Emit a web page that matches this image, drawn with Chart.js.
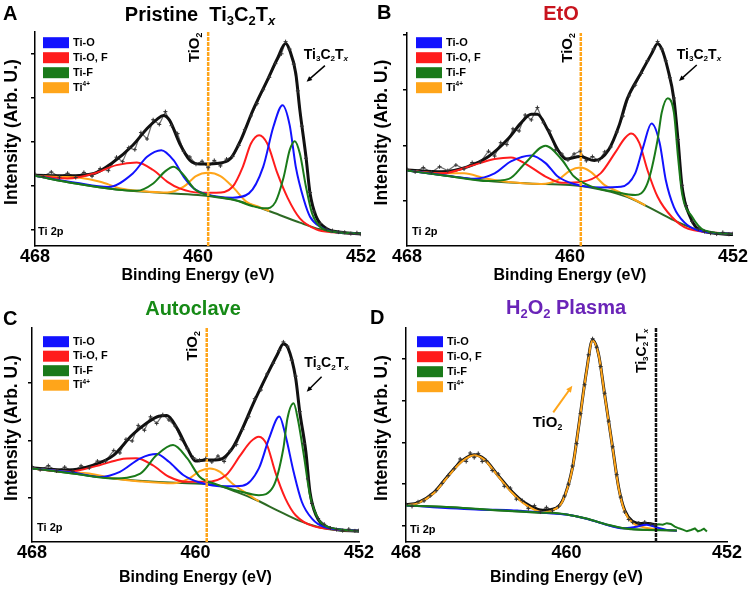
<!DOCTYPE html>
<html lang="en">
<head>
<meta charset="UTF-8">
<meta name="viewport" content="width=device-width, initial-scale=1.0">
<title>Ti 2p spectra</title>
<script src="https://cdn.jsdelivr.net/npm/chart.js@4.4.1/dist/chart.umd.min.js"></script>
<style>
  body { margin: 0; background: #fff; }
  #fig { position: relative; width: 750px; height: 591px; overflow: hidden;
         font-family: "Liberation Sans", Arial, sans-serif; font-weight: bold; color: #000; }
  canvas { position: absolute; }
  .lbl { position: absolute; white-space: nowrap; line-height: 1; transform: translate(-50%, -50%); }
  .let { font-size: 20px; transform: translate(0, -50%); }
  .ttl { font-size: 20px; }
  .ttl sub { font-size: 65%; vertical-align: -0.3em; line-height: 0; }
</style>
</head>
<body>
<div id="fig">
  <canvas id="cA" width="376" height="295" style="left:0;top:0"></canvas>
  <canvas id="cB" width="378" height="295" style="left:372px;top:0"></canvas>
  <canvas id="cC" width="376" height="296" style="left:0;top:295px"></canvas>
  <canvas id="cD" width="379" height="296" style="left:371px;top:295px"></canvas>

  <div class="lbl let" style="left:3px;top:13px">A</div>
  <div class="lbl let" style="left:377px;top:12px">B</div>
  <div class="lbl let" style="left:3px;top:318px">C</div>
  <div class="lbl let" style="left:370px;top:317px">D</div>

  <div class="lbl ttl" style="left:200px;top:14px">Pristine&nbsp;&nbsp;Ti<sub>3</sub>C<sub>2</sub>T<sub><i>x</i></sub></div>
  <div class="lbl ttl" style="left:561px;top:13px;color:#c8141e">EtO</div>
  <div class="lbl ttl" style="left:193px;top:308px;color:#168a16">Autoclave</div>
  <div class="lbl ttl" style="left:566px;top:307px;color:#6a24b8">H<sub>2</sub>O<sub>2</sub> Plasma</div>
</div>
<script>
const FONT = '"Liberation Sans", Arial, sans-serif';
const BLUE = '#1212ff', RED = '#ff1c1c', GREEN = '#1a7a1a', ORANGE = '#ffa51a';

const energyTicks = [468, 460, 452];
const compNames = ['Ti-O', 'Ti-O, F', 'Ti-F', 'Ti4+'];
const yTitle = 'Intensity (Arb. U.)';

// y values are read off the picture, in % of plot height
// ---- A: pristine
const aBg = [[468,32.8],[466,29.2],[464,26.4],[462,25.0],[460,23.8],[459,22.7],[458,21.0],[457,18.0],[456,14.5],[455,10.9],[454,7.8],[453,6.4],[452,5.9]];
const aTiO = [[468,32.8],[466,29.6],[464.4,27.6],[463.2,33.9],[462.5,41.7],[461.8,44.8],[461.2,40.1],[460.7,32.3],[460.2,26.9],[459.6,24.2],[458.3,22.6],[457.5,24.6],[456.8,37.0],[456.3,55.7],[455.85,65.8],[455.5,56.5],[455.2,37.0],[454.8,21.5],[454.5,13.7],[454,9.0],[453.4,6.7],[452,5.9]];
const aTiOF = [[468,32.8],[466.4,31.6],[465.1,33.9],[464,37.8],[463,39.0],[462.2,35.5],[461.5,30.0],[460.9,26.9],[459.9,24.9],[459.1,24.9],[458.3,27.7],[457.8,37.0],[457.4,47.9],[457.0,51.8],[456.6,47.9],[456.1,33.9],[455.6,22.5],[455.0,12.9],[454.2,7.8],[453.4,6.4],[452,5.9]];
const aTiF = [[468,32.8],[466,29.2],[464,26.4],[463.0,25.8],[462.2,29.2],[461.6,35.0],[461.2,37.0],[460.7,33.1],[460.2,26.9],[459.6,24.0],[458.3,21.8],[457.3,18.6],[456.7,17.6],[456.2,20.5],[455.8,32.0],[455.5,44.8],[455.25,49.0],[455.0,43.2],[454.7,27.7],[454.4,15.2],[454.0,9.0],[453.4,6.7],[452,5.9]];
const aTi4 = [[468,32.8],[466.8,32.3],[465.8,31.9],[464.8,30.0],[463.8,26.9],[462.8,25.7],[461.5,25.0],[460.7,27.7],[460.1,32.7],[459.5,34.2],[458.9,32.7],[458.3,27.7],[457.6,20.5],[457.0,18.3],[456.5,16.3]];
const aEnv = [[468,33.1],[466.4,32.8],[465.1,33.9],[464.2,38.9],[463.2,47.1],[462.5,54.9],[462.0,59.3],[461.7,61.0],[461.4,58.8],[460.9,47.9],[460.4,40.1],[459.9,38.3],[459.1,38.6],[458.4,40.9],[457.9,49.5],[457.3,63.5],[456.6,77.4],[456.1,87.6],[455.7,94.6],[455.5,91.5],[455.2,80.6],[455.0,63.5],[454.7,41.7],[454.5,24.6],[454.2,13.7],[453.7,8.2],[453.0,6.4],[452,5.6]];
const aRaw = [[468,33.5],[467.6,32.6],[467.2,34.6],[466.8,32.2],[466.4,34.0],[466.0,32.0],[465.6,34.4],[465.2,32.6],[464.8,36.2],[464.4,35.2],[464.0,41.5],[463.7,39.4],[463.4,46.0],[463.1,45.0],[462.8,53.0],[462.5,50.0],[462.2,59.0],[461.9,56.8],[461.6,62.8],[461.3,56.2],[461.0,52.5],[460.7,44.2],[460.4,41.6],[460.1,38.2],[459.8,39.6],[459.5,36.6],[459.2,40.0],[458.9,37.4],[458.6,40.6],[458.3,41.8],[458.0,47.0],[457.7,54.5],[457.4,60.8],[457.1,66.5],[456.8,73.0],[456.5,78.8],[456.2,85.2],[455.9,89.8],[455.7,95.5],[455.5,92.0],[455.3,85.0],[455.1,72.5],[454.9,56.0],[454.7,41.0],[454.5,25.0],[454.3,16.0],[454.0,10.5],[453.7,8.0],[453.4,7.2],[453.1,6.5],[452.8,6.4],[452.5,5.8],[452.2,6.2],[452.0,5.5]];
const aTicks = [7.8, 28.1, 48.7, 69.2, 89.9];

// ---- B: EtO
const bBg = [[468,35.4],[466,32.9],[464,30.5],[462,29.4],[460,28.6],[459,27.5],[458,25.4],[457,22.3],[456,17.5],[455,12.5],[454,8.4],[453,6.2],[452,5.7]];
const bTiO = [[468,35.4],[466,33.0],[464.7,31.6],[463.7,34.1],[462.9,39.7],[461.9,42.5],[461.2,38.9],[460.6,32.6],[459.8,29.1],[458.5,27.5],[457.5,27.8],[456.8,34.1],[456.4,46.8],[456.0,57.5],[455.6,48.4],[455.3,31.0],[454.9,18.3],[454.4,11.2],[453.7,7.3],[452,5.7]];
const bTiOF = [[468,35.4],[466.3,34.1],[464.7,38.1],[463.7,40.8],[462.9,41.6],[462.1,38.1],[461.2,32.6],[460.4,29.7],[459.4,30.2],[458.5,34.1],[457.8,43.6],[457.3,50.7],[457.0,52.8],[456.6,48.4],[456.2,35.7],[455.7,23.1],[455.0,13.6],[454.2,8.1],[452,5.7]];
const bTiF = [[468,35.4],[466,32.9],[464,30.5],[463.0,31.5],[462.2,38.9],[461.2,47.1],[460.4,40.5],[459.8,32.6],[459.0,28.1],[457.8,25.4],[456.8,23.9],[456.2,29.4],[455.7,49.9],[455.5,62.6],[455.2,69.4],[454.9,62.6],[454.7,42.0],[454.5,24.7],[454.0,13.6],[453.4,7.3],[452,5.7]];
const bTi4 = [[468,35.4],[466.3,34.1],[465.2,34.1],[464.2,31.8],[463.0,30.0],[461.4,29.1],[460.6,31.0],[460.0,35.4],[459.5,36.8],[459.0,34.9],[458.3,28.6],[457.6,25.4],[456.8,21.6],[456.3,19.0]];
const bEnv = [[468,35.7],[466.3,34.9],[465.0,37.3],[464.0,42.0],[463.0,50.7],[462.4,57.8],[461.9,61.8],[461.6,61.8],[461.1,54.7],[460.6,45.2],[460.2,40.8],[459.5,42.0],[458.8,40.1],[458.1,45.2],[457.6,56.3],[457.2,68.9],[456.5,81.5],[456.0,90.2],[455.7,95.0],[455.5,92.6],[455.2,83.1],[454.9,68.9],[454.7,49.9],[454.5,27.8],[454.1,13.6],[453.6,7.3],[452,5.4]];
const bRaw = [[468,36.0],[467.6,34.8],[467.2,36.8],[466.8,34.6],[466.4,37.2],[466.0,35.4],[465.6,38.0],[465.2,36.2],[464.8,39.2],[464.4,39.4],[464.0,44.5],[463.7,42.2],[463.4,48.5],[463.1,47.6],[462.8,55.0],[462.5,54.0],[462.2,61.5],[461.9,59.2],[461.6,65.0],[461.3,57.8],[461.0,54.0],[460.7,45.2],[460.4,43.2],[460.1,40.4],[459.8,43.2],[459.5,44.5],[459.2,40.0],[458.9,42.0],[458.6,40.0],[458.3,44.2],[458.0,46.5],[457.7,53.5],[457.4,61.0],[457.1,70.5],[456.8,75.5],[456.5,81.0],[456.2,87.0],[455.9,92.5],[455.7,96.0],[455.5,92.5],[455.3,87.0],[455.1,79.0],[454.9,69.5],[454.7,50.0],[454.5,28.5],[454.3,19.0],[454.0,11.5],[453.7,8.0],[453.4,6.8],[453.1,6.0],[452.8,5.6],[452.5,6.4],[452.2,5.5],[452.0,5.8]];
const bTicks = [21.3, 47.3, 73.3, 99.3];

// ---- C: autoclave
const cBg = [[468,34.4],[466,32.0],[464,29.7],[462,28.1],[460,27.3],[459,26.6],[458,23.4],[457,19.5],[456,14.8],[455,10.2],[454,7.0],[453,5.5],[452,5.2]];
const cTiO = [[468,34.4],[466,32.5],[464.7,30.4],[463.7,32.8],[462.7,39.1],[461.9,41.1],[461.3,37.5],[460.6,31.3],[459.8,27.8],[458.5,26.0],[457.7,26.3],[456.9,34.4],[456.4,48.4],[455.9,58.6],[455.6,50.0],[455.2,32.8],[454.8,18.8],[454.3,10.9],[453.7,7.0],[452,5.2]];
const cTiOF = [[468,34.4],[466.3,32.8],[464.7,35.9],[463.7,38.6],[462.9,39.1],[462.1,35.9],[461.3,30.5],[460.4,28.1],[459.5,28.1],[458.5,31.3],[457.8,40.6],[457.3,46.9],[456.9,49.2],[456.5,45.3],[456.1,32.8],[455.6,20.3],[455.1,12.5],[454.2,7.3],[452,5.2]];
const cTiF = [[468,34.4],[466,32.0],[464,29.7],[462.7,32.0],[461.9,40.6],[461.1,45.3],[460.4,39.1],[459.8,30.5],[459.0,27.0],[457.8,23.6],[456.9,21.9],[456.2,25.8],[455.7,43.8],[455.5,57.8],[455.2,64.8],[455.0,57.8],[454.7,40.6],[454.4,21.9],[454.0,10.9],[453.4,6.7],[452,5.2]];
const cTi4 = [[468,34.4],[466.3,32.8],[465.2,32.0],[464.0,29.7],[462.7,28.3],[461.1,27.4],[460.3,29.7],[459.8,33.1],[459.3,34.4],[458.8,32.8],[458.2,27.3],[457.5,22.7],[456.9,19.0]];
const cEnv = [[468,34.7],[466.3,33.6],[465.0,35.9],[464.0,40.6],[463.1,50.0],[462.4,55.5],[461.8,58.8],[461.4,59.1],[460.9,53.1],[460.4,43.8],[460.0,37.8],[459.5,38.3],[458.8,38.6],[458.2,43.8],[457.7,53.1],[457.2,64.1],[456.5,78.1],[456.0,87.5],[455.7,92.5],[455.47,90.6],[455.1,76.6],[454.9,60.9],[454.6,42.2],[454.4,23.4],[454.1,12.5],[453.6,7.0],[452,5.0]];
const cRaw = [[468,35.2],[467.6,33.8],[467.2,35.7],[466.8,33.2],[466.4,35.0],[466.0,33.0],[465.6,35.6],[465.2,34.6],[464.8,37.8],[464.4,37.8],[464.0,42.8],[463.7,41.6],[463.4,48.0],[463.1,47.2],[462.8,54.5],[462.5,52.2],[462.2,58.5],[461.9,55.4],[461.6,59.5],[461.3,57.0],[461.0,54.2],[460.7,48.0],[460.4,43.6],[460.1,39.4],[459.8,38.2],[459.5,39.0],[459.2,37.4],[458.9,40.2],[458.6,37.6],[458.3,42.6],[458.0,45.5],[457.7,52.5],[457.4,58.5],[457.1,67.0],[456.8,71.0],[456.5,78.5],[456.2,83.5],[455.9,89.5],[455.7,93.5],[455.5,91.5],[455.3,85.0],[455.1,77.5],[454.9,61.0],[454.7,46.0],[454.5,29.5],[454.3,18.0],[454.0,11.0],[453.7,8.3],[453.4,6.5],[453.1,5.8],[452.8,5.3],[452.5,6.0],[452.2,5.2],[452.0,5.4]];
const cTicks = [20.5, 47.3, 74.5];

// ---- D: H2O2 plasma
const dBg = [[468,17.0],[466,16.4],[464,15.1],[462,14.0],[461,13.6],[460,12.8],[459,10.9],[458,8.1],[457,6.2],[456,5.6],[455,5.5],[454.5,5.3]];
const dTiO = [[468,17.0],[464,15.1],[463.0,15.0],[462.3,14.6],[461.5,14.0],[461,13.6],[460,12.8],[459,10.9],[458,8.1],[457.2,6.4],[456.6,7.0],[456.0,8.1],[455.5,6.8],[455.0,5.6],[454.5,5.3]];
const dTiF = [[468,17.0],[466,16.4],[464,15.2],[462,14.1],[461,13.7],[460,12.9],[459,11.0],[458,8.2],[457,6.3],[456,5.7],[455,5.5],[454.5,5.4]];
const dTiFTail = [[455.6,7.9],[455.4,8.3],[455.2,8.1],[455.0,8.8],[454.8,8.4],[454.6,7.2],[454.4,6.4],[454.2,5.8],[454.0,5.0],[453.8,5.6],[453.6,6.3],[453.45,5.0],[453.3,5.4],[453.15,6.2],[453.0,4.9]];
const dTi4 = [[468,17.1],[467.4,18.2],[466.6,22.9],[465.9,30.7],[465.2,37.7],[464.6,40.5],[464.1,38.5],[463.4,30.7],[462.7,22.9],[462.1,17.8],[461.2,14.0],[460.7,14.8],[460.2,19.0],[459.7,34.6],[459.4,53.3],[459.0,79.8],[458.7,94.2],[458.4,87.5],[458.1,68.8],[457.7,43.9],[457.4,25.2],[457.1,14.3],[456.7,8.9],[456.2,7.0],[455.4,5.8],[454.5,5.3]];
const dEnv = [[468,17.4],[467.4,18.4],[466.6,23.2],[465.9,31.0],[465.2,38.0],[464.6,40.8],[464.1,38.8],[463.4,31.0],[462.7,23.3],[462.1,18.4],[461.2,14.8],[460.7,15.3],[460.2,19.2],[459.7,34.8],[459.4,53.5],[459.0,80.0],[458.7,94.4],[458.4,87.6],[458.1,69.0],[457.7,44.0],[457.4,25.5],[457.1,14.8],[456.7,9.6],[456.3,8.6],[455.9,8.6],[455.6,8.2]];
const dRaw = [[468,17.6],[467.7,16.6],[467.4,18.8],[467.1,19.2],[466.8,21.6],[466.5,24.0],[466.2,27.4],[465.9,31.0],[465.6,34.2],[465.3,38.8],[465.0,37.6],[464.8,41.6],[464.6,39.4],[464.4,41.4],[464.2,37.6],[464.0,38.0],[463.7,33.4],[463.4,31.8],[463.1,26.0],[462.8,25.2],[462.5,20.0],[462.2,19.4],[461.9,15.6],[461.6,17.0],[461.3,14.0],[461.0,16.2],[460.7,14.6],[460.4,16.8],[460.1,21.5],[459.9,27.0],[459.7,35.5],[459.5,46.0],[459.3,60.0],[459.1,73.5],[458.9,87.5],[458.7,95.0],[458.5,91.0],[458.3,82.0],[458.1,69.5],[457.9,56.5],[457.7,44.5],[457.5,31.5],[457.3,21.0],[457.1,14.0],[456.9,10.5],[456.7,9.2],[456.4,8.8],[456.1,9.3],[455.8,8.4],[455.6,8.0]];
const dTicks = [7.6, 27.1, 46.6, 66.0, 85.5];

// rich text pieces: 0 normal, 1 subscript, 2 italic subscript, 3 superscript
const TI3C2TX = [['Ti',0],['3',1],['C',0],['2',1],['T',0],['x',2]];
const TIO2 = [['TiO',0],['2',1]];
const legendParts = [[['Ti-O',0]], [['Ti-O, F',0]], [['Ti-F',0]], [['Ti',0],['4+',3]]];
const legendColors = [BLUE, RED, GREEN, ORANGE];

function drawRich(ctx, parts, x, y, size, color, align) {
  const fonts = parts.map(([t, k]) => k === 0 ? `bold ${size}px ${FONT}`
    : `${k === 2 ? 'italic ' : ''}bold ${(size * 0.58).toFixed(1)}px ${FONT}`);
  let w = 0;
  const widths = parts.map(([t], i) => { ctx.font = fonts[i]; const m = ctx.measureText(t).width; w += m; return m; });
  let cx = align === 'center' ? x - w / 2 : x;
  ctx.fillStyle = color;
  ctx.textBaseline = 'middle';
  ctx.textAlign = 'left';
  parts.forEach(([t, k], i) => {
    ctx.font = fonts[i];
    const dy = (k === 1 || k === 2) ? size * 0.3 : (k === 3 ? -size * 0.3 : 0);
    ctx.fillText(t, cx, y + dy);
    cx += widths[i];
  });
}

function arrow(ctx, x1, y1, x2, y2, color, w, head) {
  const ang = Math.atan2(y2 - y1, x2 - x1);
  ctx.strokeStyle = color; ctx.fillStyle = color; ctx.lineWidth = w;
  ctx.beginPath();
  ctx.moveTo(x1, y1);
  ctx.lineTo(x2 - Math.cos(ang) * head * 0.7, y2 - Math.sin(ang) * head * 0.7);
  ctx.stroke();
  ctx.beginPath();
  ctx.moveTo(x2, y2);
  ctx.lineTo(x2 - head * Math.cos(ang - 0.42), y2 - head * Math.sin(ang - 0.42));
  ctx.lineTo(x2 - head * Math.cos(ang + 0.42), y2 - head * Math.sin(ang + 0.42));
  ctx.closePath();
  ctx.fill();
}

const panels = {
  cA: { pad: { top: 32, right: 15 }, yW: 35, xTitlePad: 10, yTitleX: 12, yTicks: aTicks,
        bg: aBg, env: aEnv, raw: aRaw, tio: aTiO, tiof: aTiOF, tif: aTiF, ti4: aTi4,
        ref: 459.5, refColor: ORANGE, legend: [8, 10.7, 15], tip: [3, 14],
        labels: [{ parts: TI3C2TX, at: [453.72, 89.3], size: 14 },
                 { parts: TIO2, at: [460.15, 92.8], size: 15, rot: true }],
        arrows: [{ from: [453.77, 84.3], to: [454.67, 76.8], color: '#000', w: 1.5, head: 6 }] },
  cB: { pad: { top: 33, right: 17 }, yW: 35, xTitlePad: 10, yTitleX: 10.5, yTicks: bTicks,
        bg: bBg, env: bEnv, raw: bRaw, tio: bTiO, tiof: bTiOF, tif: bTiF, ti4: bTi4,
        ref: 459.47, refColor: ORANGE, legend: [9, 9.7, 15], tip: [5, 14],
        labels: [{ parts: TI3C2TX, at: [453.67, 89.7], size: 14 },
                 { parts: TIO2, at: [460.1, 93], size: 15, rot: true }],
        arrows: [{ from: [453.78, 85.0], to: [454.65, 77.5], color: '#000', w: 1.5, head: 6 }] },
  cC: { pad: { top: 33, right: 17 }, yW: 32, xTitlePad: 3.4, yTitleX: 11.7, yTicks: cTicks,
        bg: cBg, env: cEnv, raw: cRaw, tio: cTiO, tiof: cTiOF, tif: cTiF, ti4: cTi4,
        ref: 459.45, refColor: ORANGE, legend: [11, 13.7, 14.5], tip: [5, 14],
        labels: [{ parts: TI3C2TX, at: [453.59, 83.6], size: 14 },
                 { parts: TIO2, at: [460.12, 91.6], size: 15, rot: true }],
        arrows: [{ from: [453.83, 77.2], to: [454.56, 70.2], color: '#000', w: 1.5, head: 6 }] },
  cD: { pad: { top: 33, right: 23 }, yW: 35, xTitlePad: 3.4, yTitleX: 11, yTicks: dTicks,
        bg: dBg, env: dEnv, raw: dRaw, tio: dTiO, tiof: null, tif: dTiF, ti4: dTi4, tail: dTiFTail,
        ref: 455.54, refColor: '#111', legend: [11, 13.7, 15], tip: [4, 12],
        labels: [{ parts: TI3C2TX, at: [456.25, 89.3], size: 14, rot: true },
                 { parts: TIO2, at: [460.95, 55.6], size: 15 }],
        arrows: [{ from: [460.66, 60.6], to: [459.71, 73.0], color: ORANGE, w: 2, head: 7 }] }
};

const decor = {
  id: 'decor',
  afterDatasetsDraw(chart) {
    const p = panels[chart.canvas.id];
    const { ctx, chartArea: a } = chart;
    const x = chart.scales.x, y = chart.scales.y;
    ctx.save();
    // y axis title, sitting a little above the middle of the axis
    ctx.save();
    ctx.translate(p.yTitleX, (a.top + a.bottom) / 2 - 7);
    ctx.rotate(-Math.PI / 2);
    ctx.font = `bold 17.5px ${FONT}`;
    ctx.fillStyle = '#000';
    ctx.textAlign = 'center';
    ctx.textBaseline = 'middle';
    ctx.fillText(yTitle, 0, 0);
    ctx.restore();
    const [lx, ly, step] = p.legend;
    compNames.forEach((n, i) => {
      const cy = a.top + ly + i * step;
      ctx.fillStyle = legendColors[i];
      ctx.fillRect(a.left + lx, cy - 5.5, 26, 11);
      drawRich(ctx, legendParts[i], a.left + lx + 30, cy, 11, '#000', 'left');
    });
    drawRich(ctx, [['Ti 2p', 0]], a.left + p.tip[0], a.bottom - p.tip[1], 11, '#000', 'left');
    p.labels.forEach(l => {
      ctx.save();
      ctx.translate(x.getPixelForValue(l.at[0]), y.getPixelForValue(l.at[1]));
      if (l.rot) ctx.rotate(-Math.PI / 2);
      drawRich(ctx, l.parts, 0, 0, l.size, '#000', 'center');
      ctx.restore();
    });
    p.arrows.forEach(ar => {
      arrow(ctx, x.getPixelForValue(ar.from[0]), y.getPixelForValue(ar.from[1]),
        x.getPixelForValue(ar.to[0]), y.getPixelForValue(ar.to[1]), ar.color, ar.w, ar.head);
    });
    ctx.restore();
  }
};

function line(data, color, width, extra) {
  return Object.assign({ data, borderColor: color, borderWidth: width, pointRadius: 0,
    fill: false, cubicInterpolationMode: 'monotone' }, extra || {});
}

Object.keys(panels).forEach(id => {
  const p = panels[id];
  const ds = [];
  // first dataset is drawn on top
  ds.push({ data: p.raw, showLine: false, pointStyle: 'cross', pointRadius: 2,
            borderColor: '#333', borderWidth: 1 });
  ds.push(line([[p.ref, 0], [p.ref, 100]], p.refColor, 2.5, { borderDash: [4, 1], tension: 0, cubicInterpolationMode: 'default' }));
  if (p.tail) ds.push(line(p.tail, GREEN, 2, { tension: 0, cubicInterpolationMode: 'default' }));
  ds.push(line(p.tif, GREEN, 2));
  ds.push(line(p.tio, BLUE, 2));
  if (p.tiof) ds.push(line(p.tiof, RED, 2));
  ds.push(line(p.ti4, ORANGE, 2));
  ds.push(line(p.bg, '#2d6a24', 2));
  ds.push(line(p.env, '#111', 3));
  ds.push(line(p.raw, '#6e6e6e', 1.2, { tension: 0, cubicInterpolationMode: 'default' }));

  new Chart(id, {
    type: 'line',
    data: { datasets: ds },
    plugins: [decor],
    options: {
      responsive: false,
      animation: false,
      events: [],
      layout: { padding: { top: p.pad.top, right: p.pad.right, left: 0, bottom: 0 } },
      plugins: { legend: { display: false }, tooltip: { enabled: false } },
      scales: {
        x: {
          type: 'linear', reverse: true, min: 452, max: 468,
          afterBuildTicks: s => { s.ticks = energyTicks.map(v => ({ value: v })); },
          afterFit: s => { s.height = 49; },
          grid: { display: false, drawTicks: false },
          border: { display: true, color: '#000', width: 1.5 },
          ticks: { color: '#000', padding: 0, maxRotation: 0, autoSkip: false,
                   font: { family: FONT, size: 18, weight: 'bold' } },
          title: { display: true, text: 'Binding Energy (eV)', color: '#000',
                   font: { family: FONT, size: 16, weight: 'bold' },
                   padding: { top: 0, bottom: p.xTitlePad } }
        },
        y: {
          min: 0, max: 100,
          afterBuildTicks: s => { s.ticks = p.yTicks.map(v => ({ value: v })); },
          afterFit: s => { s.width = p.yW; },
          grid: { drawOnChartArea: false, drawTicks: true, tickLength: 4, color: '#000', lineWidth: 1.5 },
          border: { display: true, color: '#000', width: 1.5 },
          ticks: { display: false },
          title: { display: false }
        }
      }
    }
  });
});
</script>
</body>
</html>
